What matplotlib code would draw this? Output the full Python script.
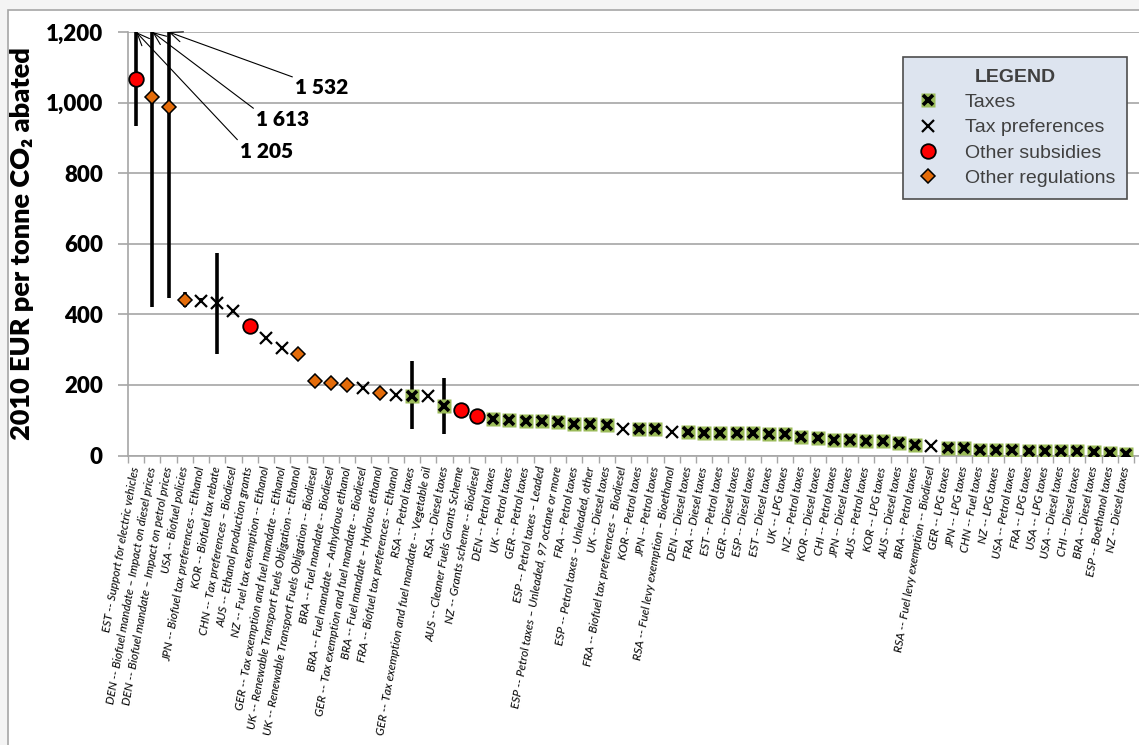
import numpy as np
import matplotlib.pyplot as plt
from matplotlib.patches import Rectangle
from matplotlib.lines import Line2D

# categories, left to right
labels = [
    "EST -- Support for electric vehicles",
    "DEN -- Biofuel mandate – Impact on diesel prices",
    "DEN -- Biofuel mandate – Impact on petrol prices",
    "USA -- Biofuel policies",
    "JPN -- Biofuel tax preferences -- Ethanol",
    "KOR -- Biofuel tax rebate",
    "CHN -- Tax preferences – Biodiesel",
    "AUS -- Ethanol production grants",
    "NZ -- Fuel tax exemption -- Ethanol",
    "GER -- Tax exemption and fuel mandate -- Ethanol",
    "UK -- Renewable Transport Fuels Obligation -- Ethanol",
    "UK -- Renewable Transport Fuels Obligation -- Biodiesel",
    "BRA -- Fuel mandate -- Biodiesel",
    "BRA -- Fuel mandate – Anhydrous ethanol",
    "GER -- Tax exemption and fuel mandate -- Biodiesel",
    "BRA -- Fuel mandate – Hydrous ethanol",
    "FRA -- Biofuel tax preferences -- Ethanol",
    "RSA -- Petrol taxes",
    "GER -- Tax exemption and fuel mandate -- Vegetable oil",
    "RSA -- Diesel taxes",
    "AUS -- Cleaner Fuels Grants Scheme",
    "NZ -- Grants scheme -- Biodiesel",
    "DEN -- Petrol taxes",
    "UK -- Petrol taxes",
    "GER -- Petrol taxes",
    "ESP -- Petrol taxes – Leaded",
    "ESP -- Petrol taxes – Unleaded, 97 octane or more",
    "FRA -- Petrol taxes",
    "ESP -- Petrol taxes – Unleaded, other",
    "UK -- Diesel taxes",
    "FRA -- Biofuel tax preferences – Biodiesel",
    "KOR -- Petrol taxes",
    "JPN -- Petrol taxes",
    "RSA -- Fuel levy exemption – Bioethanol",
    "DEN -- Diesel taxes",
    "FRA -- Diesel taxes",
    "EST -- Petrol taxes",
    "GER -- Diesel taxes",
    "ESP -- Diesel taxes",
    "EST -- Diesel taxes",
    "UK -- LPG taxes",
    "NZ -- Petrol taxes",
    "KOR -- Diesel taxes",
    "CHI -- Petrol taxes",
    "JPN -- Diesel taxes",
    "AUS -- Petrol taxes",
    "KOR -- LPG taxes",
    "AUS -- Diesel taxes",
    "BRA -- Petrol taxes",
    "RSA -- Fuel levy exemption -- Biodiesel",
    "GER -- LPG taxes",
    "JPN -- LPG taxes",
    "CHN -- Fuel taxes",
    "NZ -- LPG taxes",
    "USA -- Petrol taxes",
    "FRA -- LPG taxes",
    "USA -- LPG taxes",
    "USA -- Diesel taxes",
    "CHI -- Diesel taxes",
    "BRA -- Diesel taxes",
    "ESP -- Boethanol taxes",
    "NZ -- Diesel taxes",
]

# instrument type: tax, pref (tax preference), sub (other subsidy), reg (other regulation)
kinds = [
    "sub", "reg", "reg", "reg", "pref", "pref", "pref", "sub", "pref", "pref",
    "reg", "reg", "reg", "reg", "pref", "reg", "pref", "tax", "pref", "tax",
    "sub", "sub", "tax", "tax", "tax", "tax", "tax", "tax", "tax", "tax",
    "pref", "tax", "tax", "pref", "tax", "tax", "tax", "tax", "tax", "tax",
    "tax", "tax", "tax", "tax", "tax", "tax", "tax", "tax", "tax", "pref",
    "tax", "tax", "tax", "tax", "tax", "tax", "tax", "tax", "tax", "tax",
    "tax", "tax",
]

# central estimate, EUR per tonne CO2
cost = [
    1068, 1017, 988, 441, 438, 432, 409, 367, 332, 306,
    287, 210, 205, 201, 191, 178, 171, 170, 168, 140,
    129, 113, 104, 101, 98, 97, 96, 89, 88, 86,
    75, 74, 74, 68, 66, 65, 65, 64, 63, 62,
    60, 53, 51, 45, 43, 41, 40, 35, 30, 27,
    22, 20, 16, 15, 15, 14, 14, 14, 13, 9,
    6, 3,
]

# ranges (low / high), only where the chart shows a bar
err_low = {0: 933, 1: 422, 2: 446, 3: 422, 4: 432, 5: 288, 17: 74, 19: 62}
err_high = {0: 1205, 1: 1613, 2: 1532, 3: 462, 4: 446, 5: 573, 17: 268, 19: 219}

# off-scale upper values written on the chart
off_scale = [(0, "1 205", 6.4, 860), (1, "1 613", 7.4, 951), (2, "1 532", 9.8, 1043)]

calibri = ["Lato", "DejaVu Sans"]
arial = ["Liberation Sans", "DejaVu Sans"]

W, H = 1139, 745
fig = plt.figure(figsize=(W / 100, H / 100), dpi=100, facecolor="#f4f4f4")
fig.patches.append(Rectangle((8 / W, -0.05), 1.1, 1.05 - 10 / H, transform=fig.transFigure,
                             facecolor="white", edgecolor="#a6a6a6", lw=1.2, zorder=-5))

ax = fig.add_axes([128 / W, (H - 455.5) / H, 1 - 128 / W, 423.5 / H])
ax.set_facecolor("none")

n = len(labels)
x = np.arange(n)
cost = np.array(cost, dtype=float)

# ranges
for i in err_low:
    ax.plot([i, i], [err_low[i], err_high[i]], color="black", lw=2.6,
            solid_capstyle="butt", zorder=3)

styles = {
    "tax": dict(marker="s", color="#9bbb59", ms=9.5, mec="none"),
    "pref": dict(marker="x", color="black", ms=8.5, mew=1.6),
    "sub": dict(marker="o", mfc="#ff0000", mec="black", ms=10.5, mew=1.3),
    "reg": dict(marker="D", mfc="#e46c0a", mec="black", ms=7.5, mew=1.1),
}
for k in ["tax", "pref", "sub", "reg"]:
    idx = [i for i in range(n) if kinds[i] == k]
    ax.plot(x[idx], cost[idx], ls="none", zorder=4, **styles[k])
    if k == "tax":
        ax.plot(x[idx], cost[idx], ls="none", marker="x", color="black",
                ms=6.5, mew=2.6, zorder=5)

for i, txt, tx, ty in off_scale:
    ax.annotate(txt, xy=(i, 1200), xytext=(tx, ty), textcoords="data",
                ha="left", va="center", fontsize=15, fontweight="heavy", family=calibri,
                annotation_clip=False,
                arrowprops=dict(arrowstyle="->,head_length=0.6,head_width=0.25",
                                color="black", lw=0.8, shrinkA=0, shrinkB=0, relpos=(0, 1)))

ax.set_ylim(0, 1200)
ax.set_xlim(-0.5, n - 0.2)
ax.set_yticks(np.arange(0, 1201, 200))
ax.set_yticklabels([f"{v:,}" for v in range(0, 1201, 200)], fontsize=16,
                   fontweight="heavy", family=calibri)
ax.yaxis.grid(True, color="#a6a6a6", lw=1.2)
ax.set_axisbelow(True)

ax.set_xticks(x)
ax.set_xticklabels(labels, fontsize=8.5, style="italic", family=calibri)
for t in ax.get_xticklabels():
    t.set_rotation(80)
    t.set_rotation_mode("anchor")
    t.set_ha("right")
    t.set_va("center")
ax.tick_params(axis="x", which="major", length=0, pad=8)
ax.set_xticks(np.arange(-0.5, n), minor=True)
ax.tick_params(axis="x", which="minor", length=5, color="#a6a6a6", width=1)
ax.tick_params(axis="y", length=7, color="#a6a6a6", width=1.2, pad=11)

for s in ["top", "right"]:
    ax.spines[s].set_visible(False)
for s in ["left", "bottom"]:
    ax.spines[s].set_color("#a6a6a6")
    ax.spines[s].set_linewidth(1.2)

fig.text(22 / W, 1 - 244 / H, "2010 EUR per tonne CO₂ abated", rotation=90,
         ha="center", va="center", fontsize=19.5, fontweight="heavy", family=calibri)

# legend
h_tax = (Line2D([], [], ls="none", **styles["tax"]),
         Line2D([], [], ls="none", marker="x", color="black", ms=6.5, mew=2.6))
h_pref = Line2D([], [], ls="none", **styles["pref"])
h_sub = Line2D([], [], ls="none", **styles["sub"])
h_reg = Line2D([], [], ls="none", **styles["reg"])
leg = ax.legend([h_tax, h_pref, h_sub, h_reg],
                ["Taxes", "Tax preferences", "Other subsidies", "Other regulations"],
                title="LEGEND", loc="upper right",
                bbox_to_anchor=(1127 / W, 1 - 57 / H), bbox_transform=fig.transFigure,
                borderaxespad=0,
                prop={"family": arial, "size": 14}, labelcolor="#404040",
                title_fontproperties={"family": arial, "size": 14, "weight": "bold"},
                frameon=True, fancybox=False, framealpha=1, facecolor="#dde4ef",
                edgecolor="#4d4d4d", handlelength=1.4, handletextpad=1.2,
                labelspacing=0.4, borderpad=0.6)
leg.get_title().set_color("#404040")
leg.get_frame().set_linewidth(1.2)

plt.savefig("out.png", dpi=100, facecolor=fig.get_facecolor())
